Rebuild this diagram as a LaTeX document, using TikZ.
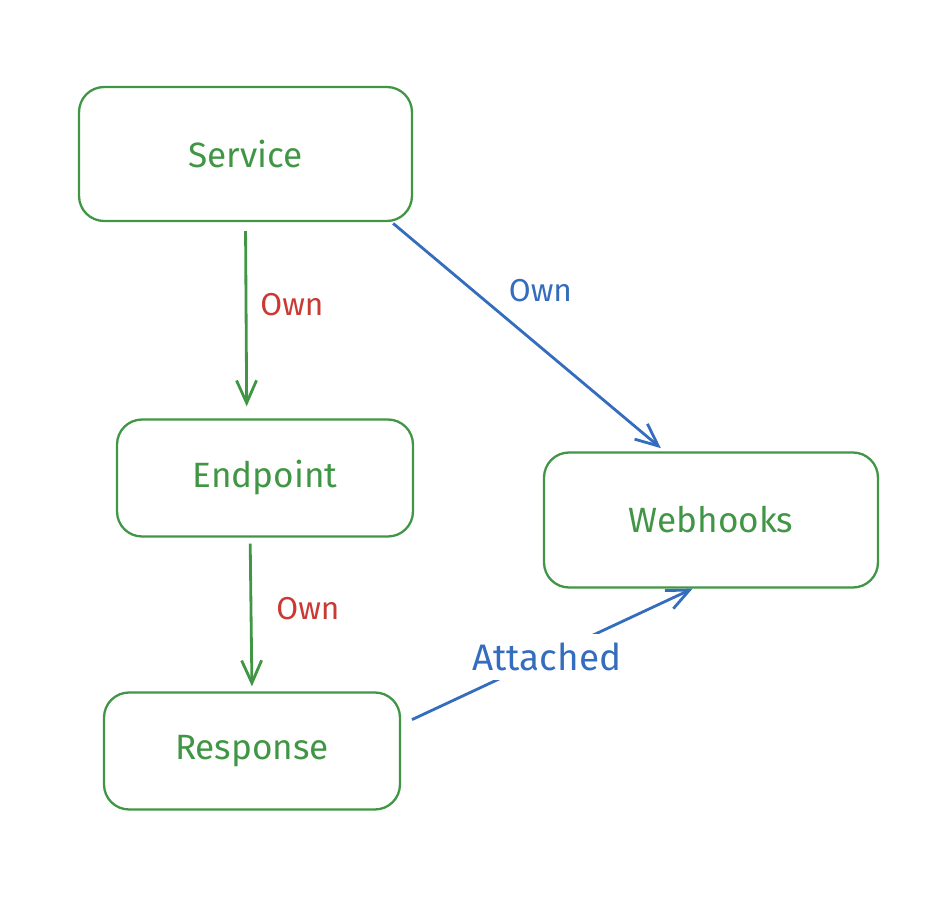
\documentclass[tikz,border=0pt]{standalone}
\usepackage{fontspec}
\setmainfont{Fira Sans}
\usetikzlibrary{arrows.meta}
\definecolor{boxGreen}{RGB}{64,150,68}
\definecolor{ownRed}{RGB}{201,58,50}
\definecolor{linkBlue}{RGB}{52,108,190}
\tikzstyle{canvas} = [x = 0.02cm, y = -0.02cm]
\tikzstyle{entityBox} = [draw=boxGreen, text=boxGreen, line width=1.3pt, rounded corners=.5cm, font=\fontsize{20}{24}\selectfont]
\tikzstyle{barbTip} = [-{Straight Barb[length=.45cm, width=.4cm]}]
\tikzstyle{ownLine} = [draw=boxGreen, line width=1.6pt, barbTip]
\tikzstyle{linkLine} = [draw=linkBlue, line width=1.6pt, barbTip]
\tikzstyle{ownText} = [text=ownRed, inner sep=0pt, font=\fontsize{18}{22}\selectfont]
\tikzstyle{linkText} = [text=linkBlue, inner sep=0pt, font=\fontsize{18}{22}\selectfont]
\begin{document}
\begin{tikzpicture}[canvas]
  \useasboundingbox (0,0) rectangle (948,916);

  \node [entityBox, minimum width=6.66cm, minimum height=2.68cm] (service) at (245.5,154) {Service};
  \node [entityBox, minimum width=5.92cm, minimum height=2.34cm] (endpoint) at (265,478) {Endpoint};
  \node [entityBox, minimum width=6.68cm, minimum height=2.7cm] (webhooks) at (711,520) {Webhooks};
  \node [entityBox, minimum width=5.92cm, minimum height=2.34cm] (response) at (252,751) {Response};

  \draw [ownLine, shorten <=.18cm, shorten >=.24cm] (service.south) -- (endpoint.107)
    node [ownText, pos=.42, right=.26cm] (ownA) {Own};
  \draw [ownLine, shorten <=.12cm, shorten >=.1cm] (endpoint.-104) -- (response.north)
    node [ownText, pos=.46, right=.48cm] (ownB) {Own};
  \draw [linkLine, shorten <=.04cm, shorten >=.1cm] (service.-25) -- (webhooks.124)
    node [linkText, pos=.3, right=.68cm] (ownC) {Own};
  \draw [linkLine, shorten <=.24cm] (response.10) -- (webhooks.-105)
    node [linkText, midway, fill=white, inner xsep=4pt, inner ysep=5pt,
      font=\fontsize{21}{25}\selectfont] (attached) {Attached};
\end{tikzpicture}
\end{document}
